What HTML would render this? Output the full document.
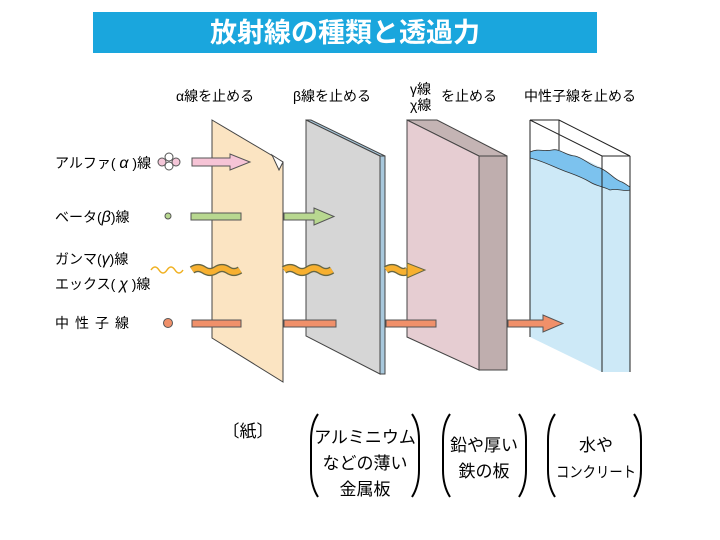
<!DOCTYPE html>
<html><head><meta charset="utf-8"><style>
html,body{margin:0;padding:0;background:#fff;width:720px;height:540px;overflow:hidden}
text{font-family:"Liberation Sans","Noto Sans CJK JP",sans-serif}
</style></head><body>
<svg width="720" height="540" viewBox="0 0 720 540" xmlns="http://www.w3.org/2000/svg">
<rect x="93" y="12" width="504" height="41" fill="#1aa6dd"/>
<text x="345" y="42" font-size="27" font-weight="bold" fill="#fff" text-anchor="middle">放射線の種類と透過力</text>

<g font-size="14" fill="#000">
<text x="176" y="101">α線を止める</text>
<text x="293" y="101">β線を止める</text>
<text x="410" y="94">γ線</text>
<text x="410" y="110">χ線</text>
<text x="441" y="101">を止める</text>
<text x="524" y="101">中性子線を止める</text>
</g>
<g font-size="14" fill="#000">
<text x="55" y="168">アルファ( <tspan font-style="italic" font-size="16">α</tspan> )線</text>
<text x="55" y="222">ベータ(<tspan font-style="italic" font-size="16">β</tspan>)線</text>
<text x="55" y="264">ガンマ(<tspan font-style="italic" font-size="16">γ</tspan>)線</text>
<text x="55" y="289">エックス( <tspan font-style="italic" font-size="16">χ</tspan> )線</text>
<text x="55" y="328" letter-spacing="6">中性子線</text>
</g>
<g stroke="#555" stroke-width="1" fill="#f4c6d8">
<circle cx="162" cy="162" r="4"/><circle cx="176" cy="162" r="4"/>
<circle cx="169" cy="157" r="4" fill="#fff"/><circle cx="169" cy="166" r="4" fill="#fff"/>
</g>
<circle cx="168" cy="216" r="3" fill="#b8d890" stroke="#555"/>
<circle cx="168" cy="323" r="4.5" fill="#f0906a" stroke="#555"/>
<path d="M151 270 q4 -6 8 0 t8 0 t8 0 t8 0" fill="none" stroke="#f0b020" stroke-width="1.5"/>

<polygon points="212,120 283,162 283,382 212,338" fill="#fbe4c2" stroke="#444" stroke-width="1"/>
<polygon points="272,155 283,162 279,170" fill="#fff" stroke="#444"/>
<polygon points="306,120 311,120 385,156 380,156" fill="#a8c8dc" stroke="#444"/>
<polygon points="380,156 385,156 385,374 380,374" fill="#a8c8dc" stroke="#444"/>
<polygon points="306,120 380,156 380,374 306,336" fill="#d6d6d6" stroke="#444"/>
<polygon points="407,120 437,120 507,156 479,156" fill="#c4b4b4" stroke="#444"/>
<polygon points="479,156 507,156 507,370 479,370" fill="#bfaeae" stroke="#444"/>
<polygon points="407,120 479,156 479,370 407,337" fill="#e6cdd2" stroke="#444"/>

<polygon points="530,152 548,150 570,154 590,162 602,168 602,372 530,337" fill="#cde9f7"/>
<polygon points="602,180 630,187 630,372 602,372" fill="#cde9f7"/>
<path d="M530,152 C538,148 545,152 552,150 C560,148 566,156 575,156 C584,158 590,166 600,168 C610,172 614,180 622,182 C626,184 628,186 630,187 L630,190 C624,192 618,188 610,190 C602,186 596,186 590,182 C580,176 572,174 562,170 C552,166 540,160 530,158 Z" fill="#7cc2ee" stroke="#333" stroke-width="0.8"/>
<g fill="none" stroke="#222" stroke-width="1">
<polygon points="530,120 559,120 630,156 602,156"/>
<line x1="530" y1="120" x2="530" y2="337"/><line x1="602" y1="156" x2="602" y2="372"/>
<line x1="630" y1="156" x2="630" y2="372"/><line x1="559" y1="120" x2="559" y2="150"/>
</g>

<polygon points="192,158 230,158 230,154 250,162 230,170 230,166 192,166" fill="#f6c4d6" stroke="#555"/>
<rect x="191" y="213" width="50" height="7" fill="#b8d890" stroke="#555"/>
<polygon points="284,213 314,213 314,208 334,216.5 314,225 314,220 284,220" fill="#b8d890" stroke="#555"/>

<g fill="none" stroke-linecap="butt">
<path d="M192,270 q6,-4 12,0 t12,0 t12,0 t12,0" stroke="#664" stroke-width="8"/>
<path d="M192,270 q6,-4 12,0 t12,0 t12,0 t12,0" stroke="#f7b030" stroke-width="5.5"/>
<path d="M284,270 q6,-4 12,0 t12,0 t12,0 t12,0" stroke="#664" stroke-width="8"/>
<path d="M284,270 q6,-4 12,0 t12,0 t12,0 t12,0" stroke="#f7b030" stroke-width="5.5"/>
<path d="M386,270 q6,-4 12,0 t10,0" stroke="#664" stroke-width="8"/>
<path d="M386,270 q6,-4 12,0 t10,0" stroke="#f7b030" stroke-width="5.5"/>
</g>
<polygon points="407,263 425,270 407,278" fill="#f7b030" stroke="#664"/>

<g fill="#f0906a" stroke="#555">
<rect x="192" y="320" width="49" height="7"/>
<rect x="284" y="320" width="52" height="7"/>
<rect x="386" y="320" width="50" height="7"/>
<polygon points="508,320 543,320 543,315 563,323.5 543,332 543,327 508,327"/>
</g>

<g font-size="17" fill="#000" text-anchor="middle">
<text x="248" y="437">〔紙〕</text>
<text x="365" y="443">アルミニウム</text>
<text x="365" y="469">などの薄い</text>
<text x="365" y="495">金属板</text>
<text x="484" y="451">鉛や厚い</text>
<text x="484" y="477">鉄の板</text>
<text x="596" y="451">水や</text>
<text x="596" y="477" font-size="15" textLength="80" lengthAdjust="spacingAndGlyphs">コンクリート</text>
</g>
<g fill="none" stroke="#000" stroke-width="2">
<path d="M318,414 Q311,424 311,440 L311,470 Q311,486 318,497"/>
<path d="M412,414 Q419,424 419,440 L419,470 Q419,486 412,497"/>
<path d="M450,414 Q443,424 443,440 L443,470 Q443,486 450,497"/>
<path d="M519,414 Q526,424 526,440 L526,470 Q526,486 519,497"/>
<path d="M555,414 Q548,424 548,440 L548,470 Q548,486 555,497"/>
<path d="M634,414 Q641,424 641,440 L641,470 Q641,486 634,497"/>
</g>
</svg>
</body></html>
